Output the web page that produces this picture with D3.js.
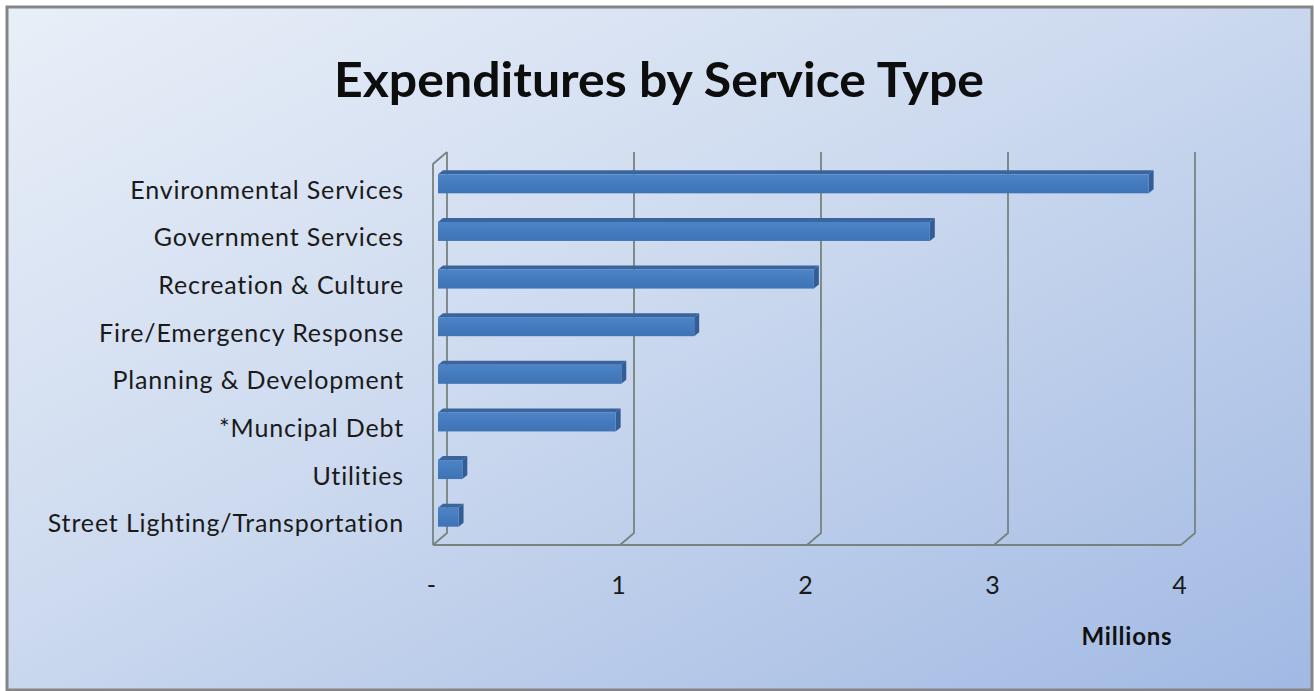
<!DOCTYPE html>
<html>
<head>
<meta charset="utf-8">
<script src="https://cdn.jsdelivr.net/npm/d3@7"></script>
<style>
	html, body { margin: 0; padding: 0; background: #ffffff; }
	svg { display: block; }
</style>
</head>
<body>
<script>
"use strict";

//chart data
let categories = ["Environmental Services", "Government Services", "Recreation & Culture",
	"Fire/Emergency Response", "Planning & Development", "*Muncipal Debt", "Utilities",
	"Street Lighting/Transportation"];
let values = [3.80, 2.63, 2.01, 1.37, 0.98, 0.95, 0.13, 0.11];
let ticks = [0, 1, 2, 3, 4];
let tick_labels = ["-", "1", "2", "3", "4"];
let title = "Expenditures by Service Type";
let axis_title = "Millions";

(function()
{
	let width = 1314, height = 691;
	//3d depth offset of the back wall
	let dx = 14, dy = -12;
	let floor_y = 545, wall_top = 152;
	let font = "Lato, 'Open Sans', sans-serif";

	let svg = d3.select("body").append("svg")
		.attr("width", width)
		.attr("height", height);

	let defs = svg.append("defs");
	let bg = defs.append("linearGradient")
		.attr("id", "bg")
		.attr("x1", "0").attr("y1", "0")
		.attr("x2", "1").attr("y2", "1");
	bg.append("stop").attr("offset", "0").attr("stop-color", "#e9eff8");
	bg.append("stop").attr("offset", "0.45").attr("stop-color", "#cddaef");
	bg.append("stop").attr("offset", "1").attr("stop-color", "#a1b9e3");

	let front = defs.append("linearGradient")
		.attr("id", "front")
		.attr("x1", "0").attr("y1", "0")
		.attr("x2", "0").attr("y2", "1");
	front.append("stop").attr("offset", "0").attr("stop-color", "#4c84c7");
	front.append("stop").attr("offset", "1").attr("stop-color", "#3e73b5");

	//background and frame
	svg.append("rect")
		.attr("width", width)
		.attr("height", height)
		.attr("fill", "#ffffff");
	svg.append("rect")
		.attr("x", 7).attr("y", 7)
		.attr("width", 1305).attr("height", 683)
		.attr("fill", "url(#bg)")
		.attr("stroke", "#858585")
		.attr("stroke-width", 3);

	//title
	svg.append("text")
		.attr("x", 659)
		.attr("y", 97)
		.attr("text-anchor", "middle")
		.attr("font-family", font)
		.attr("font-weight", "bold")
		.attr("font-size", 48)
		.attr("textLength", 650)
		.attr("lengthAdjust", "spacingAndGlyphs")
		.attr("fill", "#0d0d0d")
		.text(title);

	//scales
	let x = d3.scaleLinear().domain([0, 4]).range([433, 1181]);
	let xb = d3.scaleLinear().domain([0, 4]).range([438, 1186]);
	let y = d3.scaleBand().domain(categories).range([158, 539]);

	//walls and gridlines
	let grid = svg.append("g")
		.attr("fill", "none")
		.attr("stroke", "#76837f")
		.attr("stroke-width", 1.8)
		.attr("stroke-linejoin", "round");
	let path_func = d3.line();
	grid.append("path")
		.attr("d", path_func([[x(0), floor_y], [x(0), wall_top - dy], [x(0) + dx, wall_top]]));
	grid.append("path")
		.attr("d", path_func([[x(0), floor_y], [x(4), floor_y]]));
	for (let t of ticks)
	{
		grid.append("path")
			.attr("d", path_func([[x(t), floor_y], [x(t) + dx, floor_y + dy], [x(t) + dx, wall_top]]));
	}

	//bars
	let bd = 5, bh = 19;
	let bars = svg.append("g");
	categories.forEach(function(c, i)
	{
		let x0 = xb(0), x1 = xb(values[i]);
		let yb = y(c) + y.bandwidth() / 2 + 11.5;
		let yt = yb - bh;
		//top face
		bars.append("path")
			.attr("fill", "#3a649d")
			.attr("d", path_func([[x0, yt], [x1, yt], [x1 + bd, yt - 4], [x0 + bd, yt - 4]]) + "Z");
		//end face
		bars.append("path")
			.attr("fill", "#335d96")
			.attr("d", path_func([[x1, yt], [x1 + bd, yt - 4], [x1 + bd, yb - 4], [x1, yb]]) + "Z");
		//front face
		bars.append("rect")
			.attr("x", x0)
			.attr("y", yt)
			.attr("width", x1 - x0)
			.attr("height", bh)
			.attr("fill", "url(#front)");
	});

	//category labels
	let ylab = d3.scaleBand().domain(categories).range([167, 548]);
	svg.append("g")
		.attr("transform", "translate(404,0)")
		.call(d3.axisLeft(ylab).tickSize(0).tickPadding(0))
		.call(function(g) { g.select(".domain").remove(); })
		.selectAll("text")
		.attr("font-family", font)
		.attr("font-size", 25)
		.attr("letter-spacing", 0.85)
		.attr("fill", "#1a1a1a");

	//value axis labels
	svg.append("g")
		.attr("transform", "translate(-2," + (floor_y + 31) + ")")
		.call(d3.axisBottom(x).tickValues(ticks).tickSize(0).tickPadding(0)
			.tickFormat(function(d, i) { return tick_labels[i]; }))
		.call(function(g) { g.select(".domain").remove(); })
		.selectAll("text")
		.attr("font-family", font)
		.attr("font-size", 25)
		.attr("fill", "#1a1a1a");

	svg.append("text")
		.attr("x", 1127)
		.attr("y", 645)
		.attr("text-anchor", "middle")
		.attr("font-family", font)
		.attr("font-weight", "bold")
		.attr("font-size", 24)
		.attr("letter-spacing", 0.8)
		.attr("fill", "#111111")
		.text(axis_title);
})();
</script>
</body>
</html>
